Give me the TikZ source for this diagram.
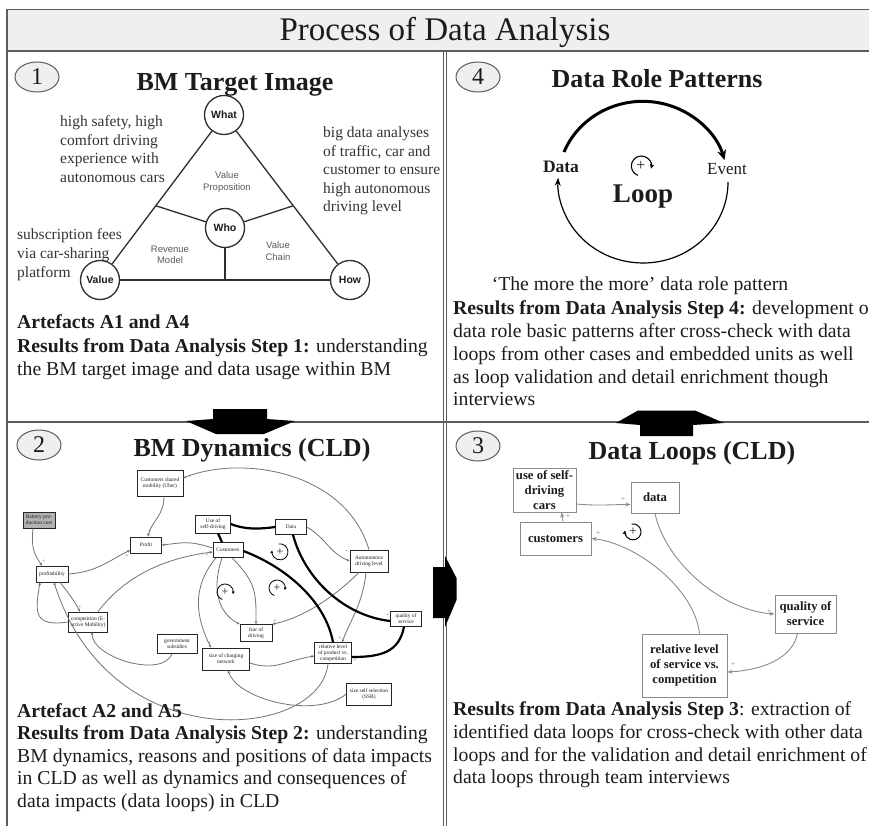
\documentclass[tikz,border=0pt]{standalone}
\usepackage{fontspec}
\setmainfont{Liberation Serif}
\newfontfamily\trisans{Liberation Sans}
\usetikzlibrary{arrows.meta,shapes.geometric,calc}
\definecolor{framec}{HTML}{5C5C5C}
\definecolor{hdrc}{HTML}{EFEFEF}
\definecolor{txtc}{HTML}{1C1C1C}
\definecolor{sidec}{HTML}{333333}
\definecolor{lnkc}{HTML}{8C8C8C}
\definecolor{tric}{HTML}{2E2E2E}
\definecolor{trilabc}{HTML}{5A5A5A}
\newcommand\fsz[2]{\fontsize{#1}{#2}\selectfont}
\begin{document}
\begin{tikzpicture}[x=1pt,y=-1pt,
  every node/.style={inner sep=0pt, text=txtc},
  bodyln/.style={anchor=base west, font=\fsz{19.7}{23}},
  sideln/.style={anchor=base west, font=\fsz{15.5}{18}, text=sidec},
  qtitle/.style={anchor=base, font=\bfseries\fsz{26}{28}},
  numel/.style={ellipse, draw=framec, line width=1, fill=hdrc, minimum width=44, minimum height=30, font=\fsz{24}{24}},
  tricirc/.style={circle, draw=tric, line width=1.3, fill=white, minimum size=39, font=\trisans\bfseries\fsz{10.5}{11}},
  triline/.style={draw=tric, line width=1.3},
  trilab/.style={font=\trisans\fsz{9.5}{11.5}, text=trilabc, align=center},
  q3box/.style={draw=black!45, line width=1, fill=white, font=\bfseries\fsz{12.7}{15}, align=center},
  q3arr/.style={draw=lnkc, line width=0.9, -{Stealth[length=5pt,width=4pt]}},
  q3plus/.style={font=\fsz{8}{8}, text=lnkc},
  q2box/.style={draw=black!85, line width=0.7, fill=white, font=\fsz{5.4}{6}, align=center, inner sep=1pt},
  q2arr/.style={draw=black!55, line width=0.8, -{Stealth[length=3pt,width=2.8pt]}},
  q2thick/.style={draw=black, line width=2.2},
  q2plus/.style={font=\fsz{5}{5}, text=black!70},
  framel/.style={draw=framec, line width=1.2},
  blockarr/.style={fill=black}
]
\useasboundingbox (0,0) rectangle (869,826);
\clip (0,0) rectangle (869,826);
\fill[white] (0,0) rectangle (869,826);

% ---------- frame ----------
\filldraw[fill=hdrc, draw=framec, line width=1.5] (7,9.5) rectangle (900,51);
\draw[framel] (7,51) -- (7,860);
\draw[framel] (7,422) -- (900,422);
\draw[framel] (443.5,51) -- (443.5,860);
\draw[framel, line width=0.9] (446.8,51) -- (446.8,860);
\node[anchor=base, font=\fsz{33}{36}] (title) at (445,41) {Process of Data Analysis};

% ---------- block arrows ----------
\fill[blockarr] (213,409) -- (267,409) -- (267,419) -- (295,421) -- (264,434) -- (216,434) -- (186,421) -- (213,419) -- cycle;
\fill[blockarr] (640,436) -- (693,436) -- (693,425) -- (724,423) -- (695,410.5) -- (638,410.5) -- (616,423) -- (640,425) -- cycle;
\fill[blockarr] (433,567) -- (445,567) -- (445,556) -- (456.5,578) -- (456.5,600) -- (445,627) -- (445,618) -- (433,618) -- cycle;

% ---------- Quadrant 1 ----------
\node[numel] (n1) at (37,77) {1};
\node[qtitle] (t1) at (235,91) {BM Target Image};

\node[tricirc] (what) at (224,115) {What};
\node[tricirc] (who) at (225,228) {Who};
\node[tricirc] (val) at (100,280) {Value};
\node[tricirc] (how) at (350,280) {How};
\coordinate (lmid) at ($(what)!0.55!(val)$);
\coordinate (rmid) at ($(what)!0.55!(how)$);
\coordinate (bmid) at ($(val)!0.5!(how)$);
\draw[triline] (what) -- (val);
\draw[triline] (what) -- (how);
\draw[triline] (val) -- (how);
\draw[triline] (lmid) -- (who);
\draw[triline] (rmid) -- (who);
\draw[triline] (who) -- (bmid);
\node[trilab] (vp) at (227,182) {Value\\Proposition};
\node[trilab] (rm) at (170,255) {Revenue\\Model};
\node[trilab] (vc) at (278,251) {Value\\Chain};

\node[sideln] (s1a) at (60,127) {high safety, high};
\node[sideln] (s1b) at (60,145.5) {comfort driving};
\node[sideln] (s1c) at (60,164) {experience with};
\node[sideln] (s1d) at (60,182.5) {autonomous cars};
\node[sideln] (s2a) at (323,138) {big data analyses};
\node[sideln] (s2b) at (323,156.5) {of traffic, car and};
\node[sideln] (s2c) at (323,175) {customer to ensure};
\node[sideln] (s2d) at (323,193.5) {high autonomous};
\node[sideln] (s2e) at (323,212) {driving level};
\node[sideln] (s3a) at (17,240) {subscription fees};
\node[sideln] (s3b) at (17,258.5) {via car-sharing};
\node[sideln] (s3c) at (17,277) {platform};

\node[bodyln] (q1a) at (17,328) {\textbf{Artefacts A1 and A4}};
\node[bodyln] (q1b) at (17,352) {\textbf{Results from Data Analysis Step 1:} understanding};
\node[bodyln] (q1c) at (17,375) {the BM target image and data usage within BM};

% ---------- Quadrant 4 ----------
\node[numel] (n4) at (478,77) {4};
\node[qtitle] (t4) at (657,88) {Data Role Patterns};
\node[anchor=base, font=\bfseries\fsz{17.5}{18}] (ldata) at (561,173) {Data};
\node[anchor=base, font=\fsz{17}{18}] (levent) at (727,175) {Event};
\node[anchor=base, font=\bfseries\fsz{27}{28}] (lloop) at (643,203) {Loop};
\coordinate (atop) at (564,152);
\coordinate (abot) at (728,182);
\draw[line width=3, -{Stealth[length=10pt,width=9pt]}] (atop) arc[start angle=158, end angle=16, x radius=85pt, y radius=81pt];
\draw[line width=1.2, -{Stealth[length=8pt,width=6pt]}] (abot) arc[start angle=0, end angle=-183, x radius=85pt, y radius=81pt];
\node[font=\fsz{16}{16}] (lsign) at (641,166) {+};
\coordinate (lsigns) at (637.9,175.4);
\draw[line width=1.1, -{Stealth[length=4.5pt,width=4.5pt]}] (lsigns) arc[start angle=250, end angle=-15, radius=10pt];
\node[anchor=base, font=\fsz{19.7}{23}] (cap4) at (640,290) {‘The more the more’ data role pattern};

\node[bodyln] (q4a) at (453,314) {\textbf{Results from Data Analysis Step 4:} development of};
\node[bodyln] (q4b) at (453,337) {data role basic patterns after cross-check with data};
\node[bodyln] (q4c) at (453,360) {loops from other cases and embedded units as well};
\node[bodyln] (q4d) at (453,383) {as loop validation and detail enrichment though};
\node[bodyln] (q4e) at (453,405) {interviews};

% ---------- Quadrant 3 ----------
\node[numel] (n3) at (478,446) {3};
\node[qtitle] (t3) at (692,459) {Data Loops (CLD)};
\node[q3box, minimum width=63, minimum height=44] (cuse) at (544.5,490) {use of self-\\driving\\cars};
\node[q3box, minimum width=48, minimum height=31] (cdata) at (655,497.5) {data};
\node[q3box, minimum width=71, minimum height=33] (ccust) at (555.5,538.5) {customers};
\node[q3box, minimum width=61, minimum height=38] (cqos) at (805.5,614) {quality of\\service};
\node[q3box, minimum width=85, minimum height=63] (crel) at (684.5,665.5) {relative level\\of service vs.\\competition};
\draw[q3arr] ([yshift=-14pt]cuse.east) .. controls +(20,2) and +(-18,0) .. ([yshift=-7pt]cdata.west);
\draw[q3arr] (cdata.south) .. controls +(10,47) and +(-55,-4) .. (cqos.west);
\draw[q3arr] ([xshift=-8pt]cqos.south) .. controls +(-5,25) and +(35,-2) .. ([yshift=-6.5pt]crel.east);
\draw[q3arr] ([xshift=15pt]crel.north) .. controls +(-5,-45) and +(45,5) .. (ccust.east);
\draw[q3arr] ([xshift=7.5pt]ccust.north) -- ([xshift=17pt]cuse.south);
\node[q3plus] (p3a) at (623,499) {+};
\node[q3plus] (p3b) at (769,611) {+};
\node[q3plus] (p3c) at (733,664) {+};
\node[q3plus] (p3d) at (598,533) {+};
\node[q3plus] (p3e) at (568,516) {+};
\node[font=\fsz{13}{13}] (q3sign) at (633,532) {+};
\coordinate (q3signs) at (631.6,524);
\draw[line width=1, -{Stealth[length=4pt,width=4pt]}] (q3signs) arc[start angle=100, end angle=-190, radius=8pt];

\node[bodyln] (q3a) at (453,715) {\textbf{Results from Data Analysis Step 3}: extraction of};
\node[bodyln] (q3b) at (453,738) {identified data loops for cross-check with other data};
\node[bodyln] (q3c) at (453,761) {loops and for the validation and detail enrichment of};
\node[bodyln] (q3d) at (453,783) {data loops through team interviews};

% ---------- Quadrant 2 ----------
\node[numel] (n2) at (39,445) {2};
\node[qtitle] (t2) at (252,456) {BM Dynamics (CLD)};

\node[q2box, minimum width=46, minimum height=26] (bcs) at (160,483) {Customers shared\\mobility (Uber)};
\node[q2box, minimum width=32, minimum height=16, fill=black!30] (bbat) at (39,520) {Battery pro-\\duction cost};
\node[q2box, minimum width=31, minimum height=16] (bprofit) at (146,545) {Profit};
\node[q2box, minimum width=32, minimum height=16] (bprof) at (52,574) {profitability};
\node[q2box, minimum width=39, minimum height=20] (bcomp) at (88,622) {competition (E-\\active Mobility)};
\node[q2box, minimum width=40, minimum height=19] (bgov) at (177,644) {government\\subsidies};
\node[q2box, minimum width=35, minimum height=18] (buse) at (213,524) {Use of\\self-driving};
\node[q2box, minimum width=31, minimum height=15] (bdata) at (291,527) {Data};
\node[q2box, minimum width=30, minimum height=15] (bcust) at (228,550) {Customers};
\node[q2box, minimum width=38, minimum height=22] (bauto) at (369,561) {Autonomous\\driving level};
\node[q2box, minimum width=32, minimum height=17] (bfear) at (256,633) {fear of\\driving};
\node[q2box, minimum width=47, minimum height=22] (bsize) at (226,659) {size of charging\\network};
\node[q2box, minimum width=37, minimum height=21] (brel) at (333,653) {relative level\\of product vs.\\competition};
\node[q2box, minimum width=31, minimum height=15] (bqos) at (406,619) {quality of\\service};
\node[q2box, minimum width=45, minimum height=22] (bssb) at (369,694) {size self selection\\(SSB)};

\draw[q2arr] (bauto.north) .. controls (345,470) and (240,455) .. ([yshift=5pt]bcs.east);
\draw[q2arr] ([xshift=4pt]bcs.south) .. controls +(0,20) and +(3,-15) .. ([xshift=2pt]bprofit.north);
\draw[q2arr] ([xshift=-6pt]bbat.south) .. controls +(-2,20) and +(-8,-12) .. ([xshift=-10pt]bprof.north);
\draw[q2arr] (bprof.east) .. controls +(30,-2) and +(-18,8) .. ([yshift=3pt]bprofit.south west);
\draw[q2arr] ([yshift=2pt]bcust.west) .. controls +(-25,-8) and +(20,-2) .. (bprofit.east);
\draw[q2arr] ([xshift=10pt]bcomp.north) .. controls +(30,-40) and +(-40,5) .. ([yshift=-2pt]bcust.west);
\draw[q2arr] ([xshift=8pt]bprof.south) .. controls +(8,10) and +(-5,-10) .. ([xshift=-8pt]bcomp.north);
\draw[q2arr] (bcomp.west) .. controls +(-35,5) and +(-5,30) .. ([xshift=-12pt]bprof.south);
\draw[q2arr] ([xshift=-5pt]bgov.south) .. controls +(-10,25) and +(0,25) .. ([xshift=4pt]bcomp.south);
\draw[q2arr] ([xshift=-12pt]bcust.south) .. controls +(-25,30) and +(-15,-30) .. ([xshift=-15pt]bsize.north);
\draw[q2arr] ([xshift=-6pt]bcust.south) .. controls +(-15,45) and +(-10,-5) .. (bfear.north west);
\draw[q2arr] ([xshift=4pt]bcust.south) .. controls +(25,25) and +(0,-30) .. (bfear.north);
\draw[q2arr] ([xshift=-10pt]bauto.south) .. controls +(-30,30) and +(25,-5) .. (bfear.north east);
\draw[q2arr] ([xshift=-3pt]bauto.south) .. controls +(-3,30) and +(10,-25) .. ([xshift=9pt]brel.north);
\draw[q2arr] (bdata.east) .. controls +(20,12) and +(-20,-8) .. (bauto.west);
\draw[q2arr] ([yshift=-4pt]bsize.east) .. controls +(25,8) and +(-30,5) .. ([yshift=-3pt]brel.west);
\draw[q2arr] (bssb.west) .. controls +(-30,25) and +(10,30) .. ([xshift=2pt]bsize.south);
\draw[q2arr] ([xshift=-5pt]brel.south) .. controls (320,740) and (110,760) .. ([xshift=2pt]bprof.south);

\draw[q2thick] (buse.east) .. controls +(15,6) and +(-15,2) .. (bdata.west);
\draw[q2thick] ([xshift=-6pt]bcust.north) -- ([xshift=5pt]buse.south);
\draw[q2thick] ([yshift=-1pt]bcust.east) .. controls +(40,15) and +(-8,-43) .. (brel.north);
\draw[q2thick] ([xshift=2pt]bdata.south) .. controls +(12,45) and +(-45,-5) .. ([yshift=-2pt]bqos.west);
\draw[q2thick] ([xshift=-2pt]bqos.south) .. controls +(-5,25) and +(30,0) .. ([yshift=-4pt]brel.east);

\node[q2plus] (bp1) at (190,476) {+};
\node[q2plus] (bp2) at (150,531) {+};
\node[q2plus] (bp3) at (44,561) {+};
\node[q2plus] (bp4) at (127,556) {+};
\node[q2plus] (bp5) at (207,555) {+};
\node[q2plus] (bp6) at (80,607) {+};
\node[q2plus] (bp7) at (210,643) {+};
\node[q2plus] (bp8) at (275,621) {+};
\node[q2plus] (bp9) at (347,551) {+};
\node[q2plus] (bp10) at (340,638) {+};
\node[q2plus] (bp11) at (355,660) {+};
\node[q2plus] (bp12) at (388,615) {+};

\node[font=\fsz{12}{12}] (bs1) at (280,552) {+};
\coordinate (bs1s) at (278.6,544);
\draw[line width=0.8, -{Stealth[length=3pt,width=3pt]}] (bs1s) arc[start angle=100, end angle=-190, radius=8pt];
\node[font=\fsz{12}{12}] (bs2) at (225,592) {+};
\coordinate (bs2s) at (222.3,599.5);
\draw[line width=0.8, -{Stealth[length=3pt,width=3pt]}] (bs2s) arc[start angle=250, end angle=-15, radius=8pt];
\node[font=\fsz{12}{12}] (bs3) at (277,588) {+};
\coordinate (bs3s) at (274.3,595.5);
\draw[line width=0.8, -{Stealth[length=3pt,width=3pt]}] (bs3s) arc[start angle=250, end angle=-15, radius=8pt];

\node[bodyln] (q2a) at (17,717) {\textbf{Artefact A2 and A5}};
\node[bodyln] (q2b) at (17,739) {\textbf{Results from Data Analysis Step 2:} understanding};
\node[bodyln] (q2c) at (17,762) {BM dynamics, reasons and positions of data impacts};
\node[bodyln] (q2d) at (17,784) {in CLD as well as dynamics and consequences of};
\node[bodyln] (q2e) at (17,807) {data impacts (data loops) in CLD};
\end{tikzpicture}
\end{document}
